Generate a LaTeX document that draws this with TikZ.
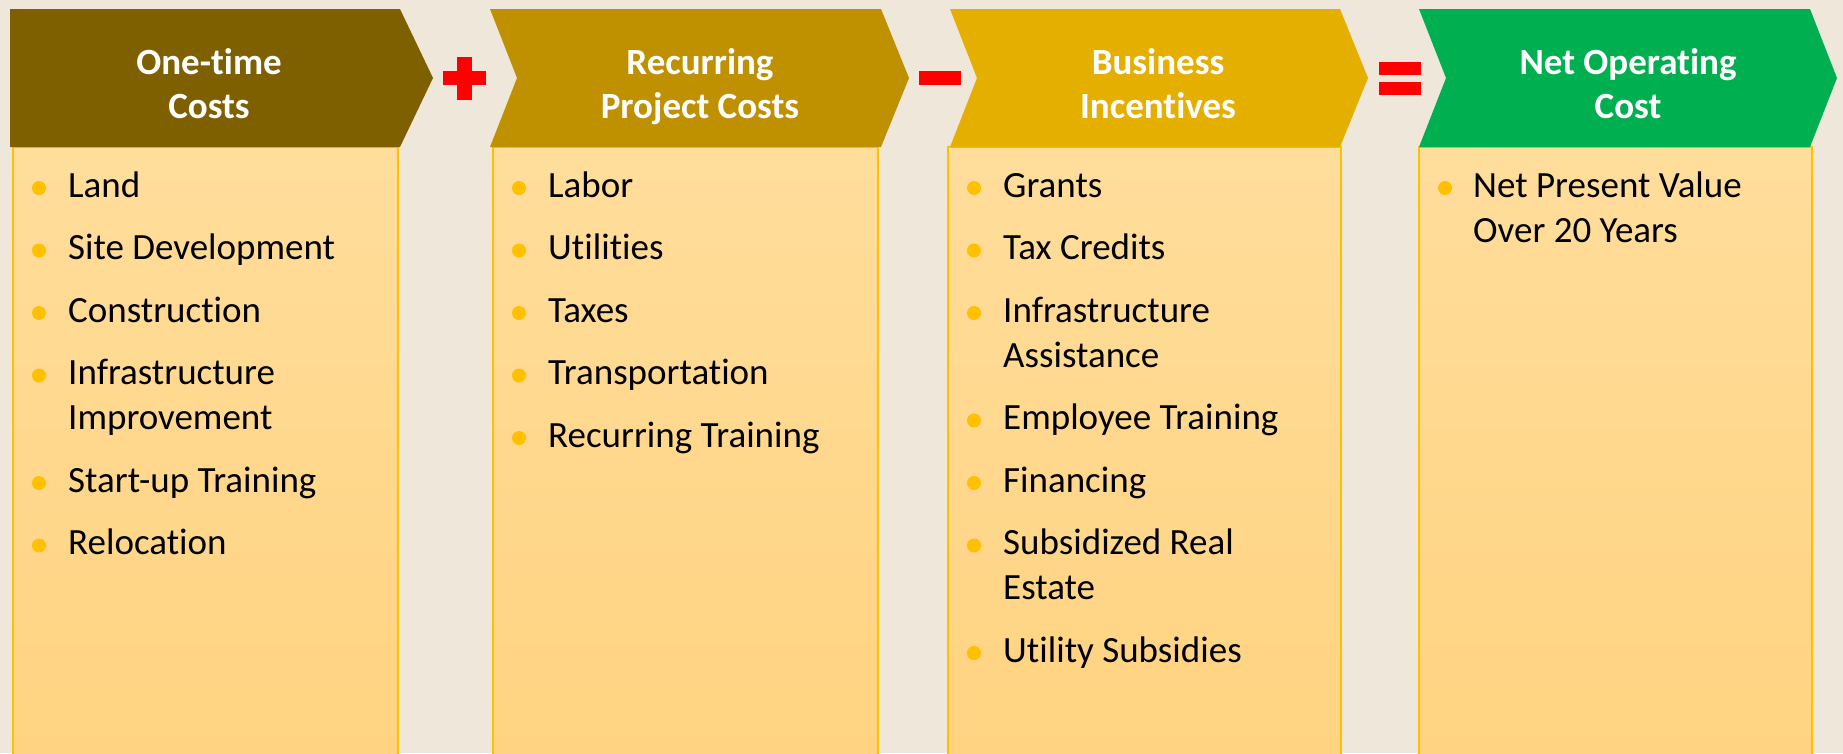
\documentclass[tikz,border=0pt]{standalone}
\usepackage{fontspec}
\setmainfont{Carlito}[Ligatures=NoCommon]
\usepackage{xcolor}
\usepackage{tikz}

\definecolor{bg}{RGB}{238,231,218}
\definecolor{darkgold}{RGB}{127,96,0}
\definecolor{midgold}{RGB}{191,144,0}
\definecolor{lightgold}{RGB}{229,175,0}
\definecolor{netgreen}{RGB}{0,176,80}
\definecolor{boxtop}{RGB}{255,221,155}
\definecolor{boxbot}{RGB}{255,211,128}
\definecolor{boxline}{RGB}{255,192,0}
\definecolor{signred}{RGB}{255,0,0}

\tikzset{
  head/.style={anchor=base, inner sep=0pt, text=white, font=\fontsize{37}{44}\selectfont\bfseries},
  item/.style={anchor=base west, inner sep=0pt, font=\fontsize{37}{45}\selectfont},
  dot/.style={circle, fill=boxline, inner sep=0pt, minimum size=14pt},
  box/.style={draw=boxline, line width=1.2pt, top color=boxtop, bottom color=boxbot}
}

\begin{document}
\begin{tikzpicture}[x=1pt, y=-1pt]
                            \clip (0,0) rectangle (1843,753);
                            \fill[bg] (0,0) rectangle (1843,753);

                            % columns
                            \draw[box] (13,147) rectangle (398,770);
                            \draw[box] (493,147) rectangle (878,770);
                            \draw[box] (948,147) rectangle (1341,770);
                            \draw[box] (1419,147) rectangle (1812,770);

                            % chevrons
                            \fill[darkgold] (10,9) -- (400,9) -- (433,78) -- (400,147) -- (10,147) -- cycle;
                            \fill[midgold] (490,9) -- (881,9) -- (909,78) -- (881,147) -- (490,147) -- (517,78) -- cycle;
                            \fill[lightgold] (950,9) -- (1340,9) -- (1368,78) -- (1340,147) -- (950,147) -- (977,78) -- cycle;
                            \fill[netgreen] (1419,9) -- (1810,9) -- (1837,78) -- (1810,147) -- (1419,147) -- (1446,78) -- cycle;

                            \node (h1) at (209,74) [head] {One-time};
                            \node (h1x) at (209,118) [head] {Costs};
                            \node (h2) at (700,74) [head] {Recurring};
                            \node (h2x) at (700,118) [head] {Project Costs};
                            \node (h3) at (1158,74) [head] {Business};
                            \node (h3x) at (1158,118) [head] {Incentives};
                            \node (h4) at (1628,74) [head] {Net Operating};
                            \node (h4x) at (1628,118) [head] {Cost};

                            % signs
                            \fill[signred] (457,57) rectangle (472,100);
                            \fill[signred] (443,71) rectangle (486,85);
                            \fill[signred] (919,71) rectangle (961,85);
                            \fill[signred] (1379,62) rectangle (1421,75);
                            \fill[signred] (1379,82) rectangle (1421,95);

                            % one-time costs
                            \node (ad1) at (39,188) [dot] {};
                            \node (a1) at (68,197) [item] {Land};
                            \node (ad2) at (39,250.5) [dot] {};
                            \node (a2) at (68,259.5) [item] {Site Development};
                            \node (ad3) at (39,313) [dot] {};
                            \node (a3) at (68,322) [item] {Construction};
                            \node (ad4) at (39,375.5) [dot] {};
                            \node (a4) at (68,384.5) [item] {Infrastructure};
                            \node (a4x) at (68,429.5) [item] {Improvement};
                            \node (ad5) at (39,483) [dot] {};
                            \node (a5) at (68,492) [item] {Start-up Training};
                            \node (ad6) at (39,545.5) [dot] {};
                            \node (a6) at (68,554.5) [item] {Relocation};

                            % recurring project costs
                            \node (bd1) at (519,188) [dot] {};
                            \node (b1) at (548,197) [item] {Labor};
                            \node (bd2) at (519,250.5) [dot] {};
                            \node (b2) at (548,259.5) [item] {Utilities};
                            \node (bd3) at (519,313) [dot] {};
                            \node (b3) at (548,322) [item] {Taxes};
                            \node (bd4) at (519,375.5) [dot] {};
                            \node (b4) at (548,384.5) [item] {Transportation};
                            \node (bd5) at (519,438) [dot] {};
                            \node (b5) at (548,447) [item] {Recurring Training};

                            % business incentives
                            \node (cd1) at (974,188) [dot] {};
                            \node (c1) at (1003,197) [item] {Grants};
                            \node (cd2) at (974,250.5) [dot] {};
                            \node (c2) at (1003,259.5) [item] {Tax Credits};
                            \node (cd3) at (974,313) [dot] {};
                            \node (c3) at (1003,322) [item] {Infrastructure};
                            \node (c3x) at (1003,367) [item] {Assistance};
                            \node (cd4) at (974,420.5) [dot] {};
                            \node (c4) at (1003,429.5) [item] {Employee Training};
                            \node (cd5) at (974,483) [dot] {};
                            \node (c5) at (1003,492) [item] {Financing};
                            \node (cd6) at (974,545.5) [dot] {};
                            \node (c6) at (1003,554.5) [item] {Subsidized Real};
                            \node (c6x) at (1003,599.5) [item] {Estate};
                            \node (cd7) at (974,653) [dot] {};
                            \node (c7) at (1003,662) [item] {Utility Subsidies};

                            % net operating cost
                            \node (dd1) at (1445,188) [dot] {};
                            \node (d1) at (1473,197) [item] {Net Present Value};
                            \node (d1x) at (1473,242) [item] {Over 20 Years};
                        \end{tikzpicture}
\end{document}
